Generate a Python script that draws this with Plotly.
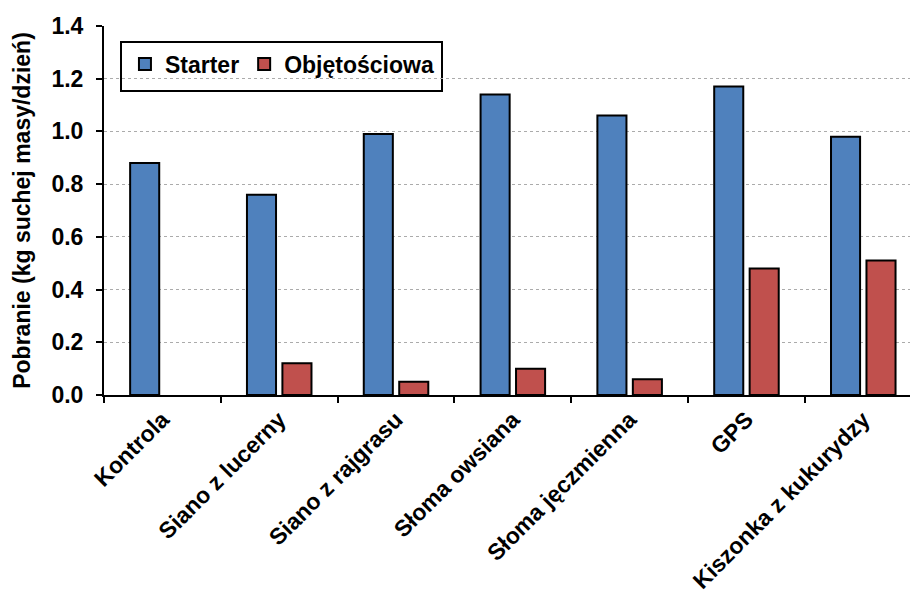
import plotly.graph_objects as go

categories = ["Kontrola", "Siano z lucerny", "Siano z rajgrasu", "Słoma owsiana",
              "Słoma jęczmienna", "GPS", "Kiszonka z kukurydzy"]
starter = [0.88, 0.76, 0.99, 1.14, 1.06, 1.17, 0.98]
# the control group received no roughage
objetosciowa = [None, 0.12, 0.05, 0.10, 0.06, 0.48, 0.51]
y_ticks = [0.0, 0.2, 0.4, 0.6, 0.8, 1.0, 1.2, 1.4]

FONT = "Liberation Sans, Arial, sans-serif"
bold = dict(family=FONT, size=23, color="black", weight="bold")

fig = go.Figure()
fig.add_bar(x=categories, y=starter, name="Starter",
            marker=dict(color="#4F81BD", line=dict(color="black", width=2)))
fig.add_bar(x=categories, y=objetosciowa, name="Objętościowa",
            marker=dict(color="#C0504D", line=dict(color="black", width=2)))

fig.update_layout(
    width=910, height=596,
    margin=dict(l=104, r=0, t=26, b=201, autoexpand=False),
    paper_bgcolor="white", plot_bgcolor="white",
    barmode="group", bargap=0.393, bargroupgap=0.18,
    font=bold,
    showlegend=True,
    legend=dict(orientation="h", x=0.026, y=0.955, xanchor="left", yanchor="top",
                bgcolor="rgba(0,0,0,0)", borderwidth=0, font=bold,
                traceorder="normal"),
    shapes=[dict(type="rect", xref="paper", yref="paper",
                 x0=(121 - 104) / 806, x1=(442 - 104) / 806,
                 y0=(395 - 91) / 369, y1=(395 - 42) / 369,
                 line=dict(color="black", width=2), fillcolor="white",
                 layer="below")],
)

fig.update_xaxes(
    range=[-0.5, 6.4], tickson="boundaries", ticks="outside", ticklen=6,
    tickwidth=2, tickcolor="black", showline=True, linecolor="black",
    linewidth=2, showgrid=False, tickangle=-45, tickfont=bold,
    automargin=False, fixedrange=True,
)
fig.update_yaxes(
    range=[0, 1.4], tickvals=y_ticks, tickformat=".1f", ticks="outside",
    ticklen=6, tickwidth=2, tickcolor="black", showline=True,
    linecolor="black", linewidth=2, showgrid=True, gridcolor="#ababab",
    gridwidth=1, griddash="dot", zeroline=False, tickfont=bold,
    ticklabelstandoff=8,
    title=dict(text="Pobranie (kg suchej masy/dzień)", font=bold, standoff=14),
    automargin=False, fixedrange=True,
)

fig.write_html("out.html")
